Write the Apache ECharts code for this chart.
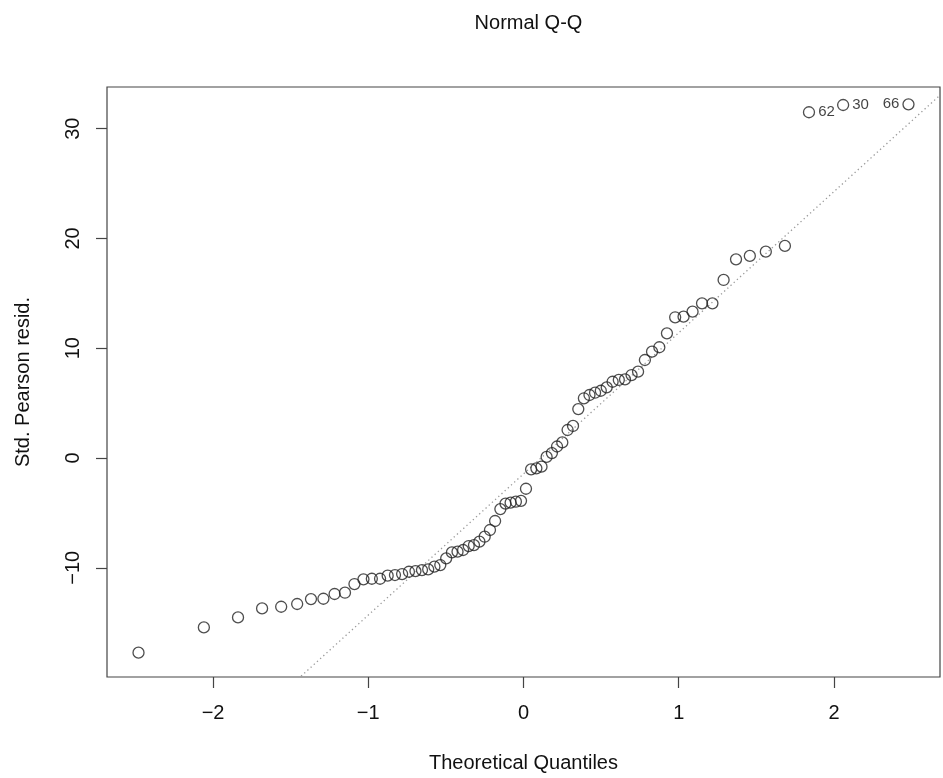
<!DOCTYPE html>
<html>
<head>
<meta charset="utf-8">
<title>Normal Q-Q</title>
<script src="https://cdn.jsdelivr.net/npm/echarts@6/dist/echarts.min.js"></script>
<style>
  html, body { margin: 0; padding: 0; background: #fff; }
  #chart { width: 943px; height: 778px; }
</style>
</head>
<body>
<div id="chart"></div>
<script>
// Theoretical normal quantiles (x) for the 76 sorted residuals
var theoreticalQuantiles = [
  -2.480, -2.059, -1.839, -1.684, -1.561, -1.458, -1.369, -1.289, -1.217, -1.150,
  -1.089, -1.031, -0.977, -0.924, -0.875, -0.828, -0.782, -0.738, -0.696, -0.654,
  -0.614, -0.574, -0.536, -0.498, -0.461, -0.425, -0.389, -0.353, -0.319, -0.284,
  -0.250, -0.216, -0.183, -0.149, -0.116, -0.083, -0.049, -0.016,
   0.016,  0.049,  0.083,  0.116,  0.149,  0.183,  0.216,  0.250,  0.284,  0.319,
   0.353,  0.389,  0.425,  0.461,  0.498,  0.536,  0.574,  0.614,  0.654,  0.696,
   0.738,  0.782,  0.828,  0.875,  0.924,  0.977,  1.031,  1.089,  1.150,  1.217,
   1.289,  1.369,  1.458,  1.561,  1.684,  1.839,  2.059,  2.480
];

// Standardized Pearson residuals, sorted ascending
var stdPearsonResid = [
  -17.73, -15.43, -14.52, -13.70, -13.55, -13.30, -12.85, -12.82, -12.39, -12.27,
  -11.48, -11.05, -11.00, -11.00, -10.72, -10.66, -10.57, -10.36, -10.30, -10.21,
  -10.14,  -9.90,  -9.75,  -9.14,  -8.60,  -8.53,  -8.38,  -8.02,  -7.93,  -7.62,
   -7.17,  -6.56,  -5.74,  -4.65,  -4.15,  -4.07,  -3.98,  -3.90,  -2.80,  -1.03,
   -0.94,  -0.79,   0.10,   0.45,   1.05,   1.42,   2.55,   2.92,   4.46,   5.44,
    5.74,   5.95,   6.13,   6.44,   6.95,   7.11,   7.17,   7.56,   7.87,   8.93,
    9.69,  10.09,  11.36,  12.82,  12.88,  13.33,  14.09,  14.09,  16.22,  18.10,
   18.41,  18.80,  19.32,  31.50,  32.16,  32.22
];

// Observations flagged with their row ids
var flaggedIndex = [73, 74, 75];
var flaggedIds   = ['62', '30', '66'];
var flaggedSide  = ['right', 'right', 'left'];

// Tick values
var xTicks = [-2, -1, 0, 1, 2];
var yTicks = [-10, 0, 10, 20, 30];

// Reference line through the quartiles
var refIntercept = -1.45;
var refSlope = 12.86;

var X_MIN = -2.683, X_MAX = 2.683;
var Y_MIN = -19.95, Y_MAX = 33.8;

var FONT = "'Liberation Sans', Arial, Helvetica, sans-serif";

function minusSign(v) {
  return String(v).replace('-', '\u2212');
}

var points = theoreticalQuantiles.map(function (q, i) {
  var item = { value: [q, stdPearsonResid[i]] };
  var k = flaggedIndex.indexOf(i);
  if (k >= 0) {
    item.label = {
      show: true,
      formatter: flaggedIds[k],
      position: flaggedSide[k],
      distance: 3,
      fontSize: 15,
      color: '#111',
      fontFamily: FONT
    };
  }
  return item;
});

var refLine = [
  [X_MIN, refIntercept + refSlope * X_MIN],
  [X_MAX, refIntercept + refSlope * X_MAX]
];

var chart = echarts.init(document.getElementById('chart'), null, { renderer: 'canvas' });

chart.setOption({
  animation: false,
  backgroundColor: '#ffffff',
  textStyle: { fontFamily: FONT },
  title: {
    text: 'Normal Q-Q',
    left: 523.5,
    top: 8,
    textAlign: 'center',
    textStyle: { fontSize: 20, fontWeight: 'normal', color: '#111', fontFamily: FONT }
  },
  grid: {
    left: 107,
    top: 87,
    width: 833,
    height: 590,
    show: true,
    borderColor: '#444',
    borderWidth: 1.2,
    backgroundColor: 'transparent'
  },
  xAxis: {
    type: 'value',
    min: X_MIN,
    max: X_MAX,
    name: 'Theoretical Quantiles',
    nameLocation: 'middle',
    nameGap: 76,
    nameTextStyle: { fontSize: 20, color: '#111', fontFamily: FONT, verticalAlign: 'top' },
    axisLine: { show: false, onZero: false },
    splitLine: { show: false },
    axisTick: {
      show: true,
      length: 11,
      customValues: xTicks,
      lineStyle: { color: '#444', width: 1.2 }
    },
    axisLabel: {
      customValues: xTicks,
      margin: 26,
      fontSize: 20,
      color: '#111',
      fontFamily: FONT,
      formatter: minusSign
    }
  },
  yAxis: {
    type: 'value',
    min: Y_MIN,
    max: Y_MAX,
    name: 'Std. Pearson resid.',
    nameLocation: 'middle',
    nameRotate: 90,
    nameGap: 74,
    nameTextStyle: { fontSize: 20, color: '#111', fontFamily: FONT },
    axisLine: { show: false, onZero: false },
    splitLine: { show: false },
    axisTick: {
      show: true,
      length: 11,
      customValues: yTicks,
      lineStyle: { color: '#444', width: 1.2 }
    },
    axisLabel: {
      customValues: yTicks,
      rotate: 90,
      margin: 24,
      fontSize: 20,
      color: '#111',
      fontFamily: FONT,
      formatter: minusSign
    }
  },
  series: [
    {
      type: 'line',
      data: refLine,
      symbol: 'none',
      silent: true,
      clip: true,
      z: 1,
      lineStyle: { color: '#9a9a9a', width: 1.3, type: [1.3, 3] }
    },
    {
      type: 'scatter',
      data: points,
      symbol: 'circle',
      symbolSize: 11,
      z: 2,
      itemStyle: {
        color: 'rgba(255,255,255,0)',
        borderColor: '#222',
        borderWidth: 1.3
      }
    }
  ]
});
</script>
</body>
</html>
